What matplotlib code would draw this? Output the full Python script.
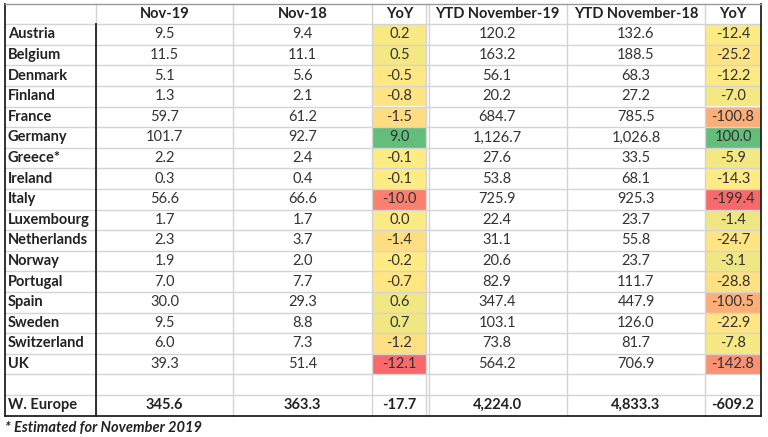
import matplotlib
matplotlib.use("Agg")
import matplotlib.pyplot as plt
import numpy as np

countries = ["Austria", "Belgium", "Denmark", "Finland", "France", "Germany", "Greece*",
             "Ireland", "Italy", "Luxembourg", "Netherlands", "Norway", "Portugal", "Spain",
             "Sweden", "Switzerland", "UK"]
nov19 = [9.5, 11.5, 5.1, 1.3, 59.7, 101.7, 2.2, 0.3, 56.6, 1.7, 2.3, 1.9, 7.0, 30.0, 9.5, 6.0, 39.3]
nov18 = [9.4, 11.1, 5.6, 2.1, 61.2, 92.7, 2.4, 0.4, 66.6, 1.7, 3.7, 2.0, 7.7, 29.3, 8.8, 7.3, 51.4]
yoy_m = [0.2, 0.5, -0.5, -0.8, -1.5, 9.0, -0.1, -0.1, -10.0, 0.0, -1.4, -0.2, -0.7, 0.6, 0.7, -1.2, -12.1]
ytd19 = [120.2, 163.2, 56.1, 20.2, 684.7, 1126.7, 27.6, 53.8, 725.9, 22.4, 31.1, 20.6, 82.9, 347.4, 103.1, 73.8, 564.2]
ytd18 = [132.6, 188.5, 68.3, 27.2, 785.5, 1026.8, 33.5, 68.1, 925.3, 23.7, 55.8, 23.7, 111.7, 447.9, 126.0, 81.7, 706.9]
yoy_y = [-12.4, -25.2, -12.2, -7.0, -100.8, 100.0, -5.9, -14.3, -199.4, -1.4, -24.7, -3.1, -28.8, -100.5, -22.9, -7.8, -142.8]
headers = ["", "Nov-19", "Nov-18", "YoY", "YTD November-19", "YTD November-18", "YoY"]
total_label = "W. Europe"
totals = [345.6, 363.3, -17.7, 4224.0, 4833.3, -609.2]
footnote = "* Estimated for November 2019"

FONT = ["Lato", "DejaVu Sans"]
W, H = 768, 437
fig = plt.figure(figsize=(W / 100, H / 100), dpi=100)
ax = fig.add_axes([0, 0, 1, 1])
ax.set_xlim(0, W)
ax.set_ylim(H, 0)
ax.axis("off")

# layout
xb = [5, 96, 233, 372, 427, 567, 705, 761]
top = 3.5
rh = 20.6
nrows = 1 + len(countries) + 2
ys = [top + i * rh for i in range(nrows + 1)]
bottom = ys[-1]

RED = np.array([0xF8, 0x69, 0x6B]) / 255
YEL = np.array([0xFF, 0xEB, 0x84]) / 255
GRN = np.array([0x63, 0xBE, 0x7B]) / 255

def scale_colors(vals):
    v = np.array(vals, float)
    lo, hi, mid = v.min(), v.max(), np.percentile(v, 50)
    cols = []
    for x in v:
        if x <= mid:
            t = (mid - x) / (mid - lo) if mid > lo else 0
            c = YEL + (RED - YEL) * t
        else:
            t = (x - mid) / (hi - mid) if hi > mid else 0
            c = YEL + (GRN - YEL) * t
        cols.append(tuple(c))
    return cols

def fmt(v):
    return f"{v:,.1f}"

# colored cells
for col_idx, vals in ((3, yoy_m), (6, yoy_y)):
    cols = scale_colors(vals)
    for i, c in enumerate(cols):
        y0 = ys[1 + i]
        ax.add_patch(plt.Rectangle((xb[col_idx], y0), xb[col_idx + 1] - xb[col_idx], rh,
                                   facecolor=c, edgecolor="none", zorder=1))

grid = "#D4D4D4"
# horizontal grid lines
for y in ys[1:-1]:
    ax.plot([xb[0], xb[-1]], [y, y], color=grid, lw=1.0, zorder=2)
# vertical grid lines
for x in xb[1:-1]:
    if x == 427:
        ax.plot([x - 1.5, x - 1.5], [top, bottom], color=grid, lw=1.0, zorder=2)
        ax.plot([x + 1.5, x + 1.5], [top, bottom], color=grid, lw=1.0, zorder=2)
    else:
        ax.plot([x, x], [top, bottom], color=grid, lw=1.0, zorder=2)
# thick lines
ax.plot([xb[1], xb[1]], [ys[1], bottom], color="#222222", lw=1.3, zorder=3)
ax.plot([xb[0], xb[0]], [top, bottom], color="#222222", lw=1.3, zorder=3)
ax.plot([xb[-1], xb[-1]], [top, bottom], color="#222222", lw=1.3, zorder=3)
ax.plot([xb[0], xb[-1]], [bottom, bottom], color="#222222", lw=1.3, zorder=3)
ax.plot([xb[0], xb[-1]], [top, top], color="#999999", lw=1.0, zorder=3)

fs = 10.5
tc = "#222222"
centers = [(xb[i] + xb[i + 1]) / 2 for i in range(len(xb) - 1)]

# header
for j, h in enumerate(headers):
    if h:
        ax.text(centers[j], (ys[0] + ys[1]) / 2, h, ha="center", va="center",
                fontsize=fs, fontweight="bold", family=FONT, color=tc, zorder=4)

# body
for i, name in enumerate(countries):
    yc = (ys[1 + i] + ys[2 + i]) / 2
    ax.text(xb[0] + 3, yc, name, ha="left", va="center", fontsize=fs,
            fontweight="bold", family=FONT, color=tc, zorder=4)
    for j, v in enumerate([nov19[i], nov18[i], yoy_m[i], ytd19[i], ytd18[i], yoy_y[i]]):
        ax.text(centers[j + 1], yc, fmt(v), ha="center", va="center", fontsize=fs,
                family=FONT, color="#333333", zorder=4)

# total
yc = (ys[-2] + ys[-1]) / 2
ax.text(xb[0] + 3, yc, total_label, ha="left", va="center", fontsize=fs,
        fontweight="bold", family=FONT, color=tc, zorder=4)
for j, v in enumerate(totals):
    ax.text(centers[j + 1], yc, fmt(v), ha="center", va="center", fontsize=fs,
            fontweight="bold", family=FONT, color=tc, zorder=4)

ax.text(xb[0], 428, footnote, ha="left", va="center", fontsize=fs,
        fontweight="bold", style="italic", family=FONT, color=tc, zorder=4)

fig.savefig("out.png", dpi=100)
